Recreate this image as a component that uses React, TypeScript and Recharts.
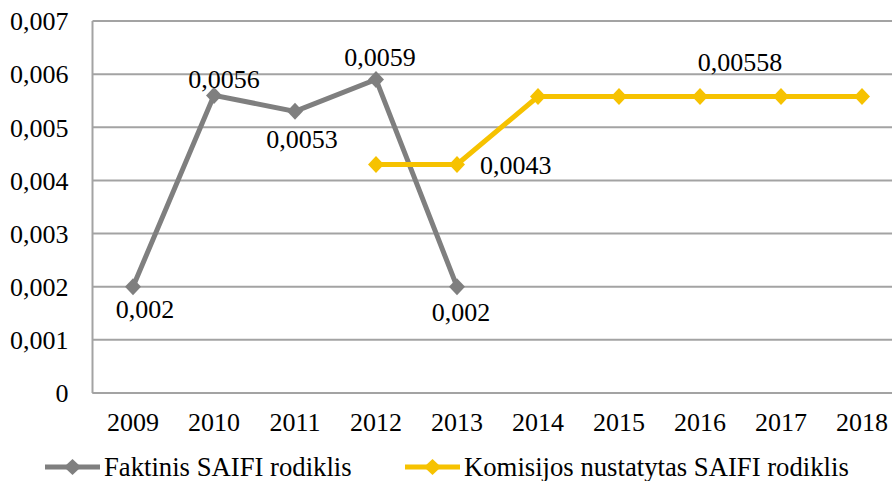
import React from 'react';
import {
  LineChart,
  Line,
  XAxis,
  YAxis,
  CartesianGrid,
  LabelList,
} from 'recharts';

const years = ['2009', '2010', '2011', '2012', '2013', '2014', '2015', '2016', '2017', '2018'];
const faktinis = [0.002, 0.0056, 0.0053, 0.0059, 0.002, null, null, null, null, null];
const komisijos = [null, null, null, 0.0043, 0.0043, 0.00558, 0.00558, 0.00558, 0.00558, 0.00558];
const yTicks = [0, 0.001, 0.002, 0.003, 0.004, 0.005, 0.006, 0.007];

const GRAY = '#7f7f7f';
const GOLD = '#f6c200';
const GRID = '#a3a3a3';
const FONT = 'Liberation Serif';

// label offsets from the point (text centre), by index
const faktinisLabelPos: Record<number, { dx: number; dy: number; anchor?: string }> = {
  0: { dx: 12, dy: 23 },
  1: { dx: 10, dy: -16 },
  2: { dx: 7, dy: 28 },
  3: { dx: 4, dy: -22 },
  4: { dx: 4, dy: 26 },
};
const komisijosLabelPos: Record<number, { dx: number; dy: number; anchor?: string }> = {
  4: { dx: 23, dy: 1, anchor: 'start' },
  7: { dx: 40, dy: -34 },
};

const data = years.map((year, i) => ({
  year,
  faktinis: faktinis[i],
  komisijos: komisijos[i],
}));

const fmt = (v: number) => String(v).replace('.', ',');

const Diamond = (color: string) => (props: any) => {
  const { cx, cy, value, index } = props;
  if (value == null || cy == null) return <g key={`d-${index}`} />;
  return (
    <polygon
      key={`d-${index}`}
      points={`${cx},${cy - 8.5} ${cx + 8},${cy} ${cx},${cy + 8.5} ${cx - 8},${cy}`}
      fill={color}
    />
  );
};

const makeLabel = (pos: Record<number, { dx: number; dy: number; anchor?: string }>) => (props: any) => {
  const { x, y, value, index } = props;
  const p = pos[index];
  if (!p || value == null) return null;
  return (
    <text
      x={x + p.dx}
      y={y + p.dy}
      textAnchor={p.anchor || 'middle'}
      dominantBaseline="central"
      style={{ fontFamily: FONT, fontSize: 26 }}
      fill="#000"
    >
      {fmt(value)}
    </text>
  );
};

const LegendItem = ({ color, label, left }: { color: string; label: string; left: number }) => (
  <div style={{ position: 'absolute', left, top: 452, display: 'flex', alignItems: 'center' }}>
    <svg width={58} height={20}>
      <line x1={1} y1={10} x2={56} y2={10} stroke={color} strokeWidth={5} />
      <polygon points="28.5,2 37,10 28.5,18 20,10" fill={color} />
    </svg>
    <span style={{ fontFamily: FONT, fontSize: 26.7, color: '#000', marginLeft: 2, lineHeight: '30px' }}>
      {label}
    </span>
  </div>
);

const App: React.FC = () => {
  return (
    <div
      style={{
        position: 'absolute',
        left: 0,
        top: 0,
        width: 892,
        height: 481,
        overflow: 'hidden',
        background: '#fff',
        fontFamily: FONT,
      }}
    >
      <LineChart
        width={920}
        height={481}
        data={data}
        margin={{ top: 21, right: 17.5, left: 0, bottom: 48 }}
        style={{ fontFamily: FONT }}
      >
        <CartesianGrid vertical={false} stroke={GRID} strokeWidth={2} />
        <XAxis
          dataKey="year"
          height={40}
          interval={0}
          padding={{ left: 40.5, right: 40.5 }}
          axisLine={{ stroke: GRID, strokeWidth: 2 }}
          tickLine={false}
          tickSize={0}
          tickMargin={20}
          tick={{ fill: '#000', fontSize: 26, style: { fontFamily: FONT } }}
        />
        <YAxis
          width={92.5}
          domain={[0, 0.007]}
          ticks={yTicks}
          interval={0}
          tickFormatter={fmt}
          axisLine={{ stroke: GRID, strokeWidth: 2 }}
          tickLine={false}
          tickSize={0}
          tickMargin={24}
          tick={{ fill: '#000', fontSize: 26, style: { fontFamily: FONT } }}
        />
        <Line
          dataKey="faktinis"
          stroke={GRAY}
          strokeWidth={5}
          dot={Diamond(GRAY)}
          activeDot={false}
          isAnimationActive={false}
        >
          <LabelList dataKey="faktinis" content={makeLabel(faktinisLabelPos)} />
        </Line>
        <Line
          dataKey="komisijos"
          stroke={GOLD}
          strokeWidth={5}
          dot={Diamond(GOLD)}
          activeDot={false}
          isAnimationActive={false}
        >
          <LabelList dataKey="komisijos" content={makeLabel(komisijosLabelPos)} />
        </Line>
      </LineChart>
      <LegendItem color={GRAY} label="Faktinis SAIFI rodiklis" left={44} />
      <LegendItem color={GOLD} label="Komisijos nustatytas SAIFI rodiklis" left={404} />
    </div>
  );
};

export default App;
